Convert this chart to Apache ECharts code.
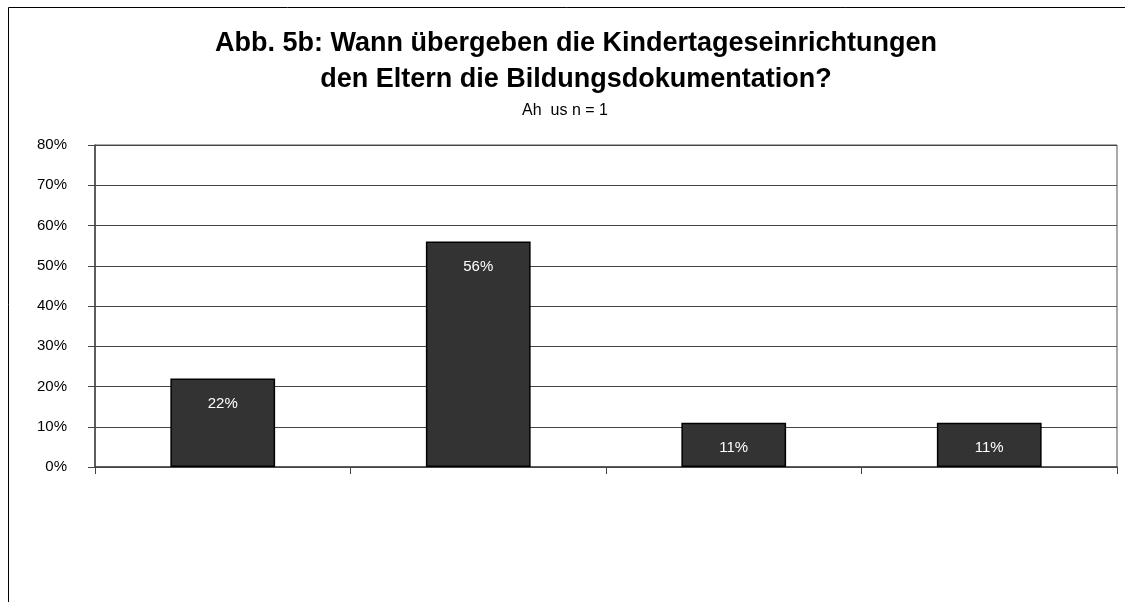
<!DOCTYPE html>
<html>
<head>
<meta charset="utf-8">
<script src="https://cdn.jsdelivr.net/npm/echarts@6/dist/echarts.min.js"></script>
<style>html,body{margin:0;padding:0;background:#fff}#c{width:1125px;height:602px}</style>
</head>
<body>
<div id="c"></div>
<script>
var titleText = 'Abb. 5b: Wann übergeben die Kindertageseinrichtungen\nden Eltern die Bildungsdokumentation?';
var subText = 'Ah  us n = 1';
var categories = ['A', 'B', 'C', 'D'];
var values = [22, 56, 11, 11];
var yTicks = [0, 10, 20, 30, 40, 50, 60, 70, 80];

var chart = echarts.init(document.getElementById('c'));
chart.setOption({
  backgroundColor: '#fff',
  animation: false,
  title: [{
    text: titleText,
    left: 571,
    textAlign: 'center',
    top: 21,
    textStyle: {fontFamily: 'Liberation Sans', fontSize: 27, fontWeight: 'bold', color: '#000', lineHeight: 36}
  }, {
    text: subText,
    left: 560,
    textAlign: 'center',
    top: 98,
    textStyle: {fontFamily: 'Liberation Sans', fontSize: 16, fontWeight: 'normal', color: '#000'}
  }],
  graphic: [
    {type: 'line', shape: {x1: 8.5, y1: 7.5, x2: 1125, y2: 7.5}, style: {stroke: '#000', lineWidth: 1}},
    {type: 'line', shape: {x1: 8.5, y1: 7.5, x2: 8.5, y2: 602}, style: {stroke: '#000', lineWidth: 1}}
  ],
  grid: {left: 95, right: 8, top: 145, bottom: 135, show: true, borderColor: '#555', borderWidth: 1, containLabel: false},
  xAxis: {
    type: 'category',
    data: categories,
    axisLine: {lineStyle: {color: '#444', width: 1.5}},
    axisTick: {show: true, length: 7, lineStyle: {color: '#444'}},
    axisLabel: {show: false}
  },
  yAxis: {
    type: 'value',
    min: yTicks[0],
    max: yTicks[yTicks.length - 1],
    interval: 10,
    axisLine: {show: true, lineStyle: {color: '#444', width: 1.5}},
    axisTick: {show: true, length: 7, lineStyle: {color: '#444'}},
    axisLabel: {formatter: '{value}%', fontFamily: 'Liberation Sans', fontSize: 15, color: '#000', margin: 28},
    splitLine: {show: true, lineStyle: {color: '#444', width: 1}}
  },
  series: [{
    type: 'bar',
    data: values,
    barWidth: '41%',
    itemStyle: {color: '#333333', borderColor: '#000', borderWidth: 1.5},
    label: {show: true, position: 'insideTop', distance: 18, formatter: '{c}%', color: '#fff', fontFamily: 'Liberation Sans', fontSize: 15}
  }]
});
</script>
</body>
</html>
